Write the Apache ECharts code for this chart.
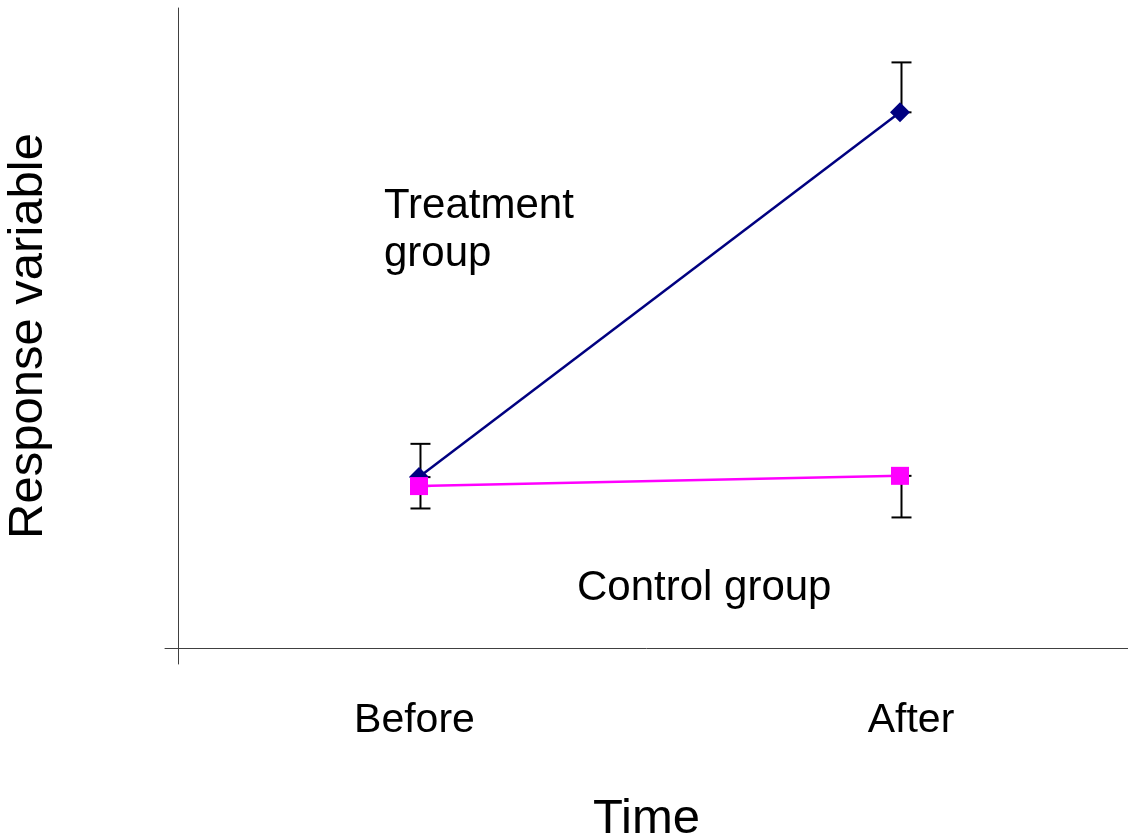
<!DOCTYPE html>
<html>
<head>
<meta charset="utf-8">
<style>
  html, body { margin: 0; padding: 0; background: #fff; }
  #chart { width: 1128px; height: 839px; }
</style>
<script src="https://cdn.jsdelivr.net/npm/echarts@6/dist/echarts.min.js"></script>
</head>
<body>
<div id="chart"></div>
<script>
var categories = ['Before', 'After'];
var xPos = [0.5, 1.5];
var treatment = [2.67, 8.37];
var treatmentErrPlus = [0.52, 0.78];
var control = [2.53, 2.69];
var controlErrMinus = [0.35, 0.65];

var myChart;
function initChart() {
    var chartDom = document.getElementById('chart');
    myChart = echarts.init(chartDom);
    var option;

    var font = 'Liberation Sans, Arial, sans-serif';
    var treatData = xPos.map(function (x, i) { return [x, treatment[i]]; });
    var ctrlData = xPos.map(function (x, i) { return [x, control[i]]; });
    var errData = [];
    xPos.forEach(function (x, i) {
        errData.push([x, treatment[i], treatment[i] + treatmentErrPlus[i]]);
        errData.push([x, control[i] - controlErrMinus[i], control[i]]);
    });

    function renderErr(params, api) {
        var x = api.value(0);
        var lo = api.coord([x, api.value(1)]);
        var hi = api.coord([x, api.value(2)]);
        var half = 10;
        var st = { stroke: '#000', lineWidth: 2 };
        return {
            type: 'group',
            children: [
                { type: 'line', shape: { x1: lo[0] + 1.5, y1: lo[1], x2: hi[0] + 1.5, y2: hi[1] }, style: st },
                { type: 'line', shape: { x1: hi[0] + 1.5 - half, y1: hi[1], x2: hi[0] + 1.5 + half, y2: hi[1] }, style: st },
                { type: 'line', shape: { x1: lo[0] + 1.5 - half, y1: lo[1], x2: lo[0] + 1.5 + half, y2: lo[1] }, style: st }
            ]
        };
    }

    option = {
        animation: false,
        textStyle: { fontFamily: font },
        grid: { left: 165, right: 0, top: 8, bottom: 175, outerBoundsMode: 'none', containLabel: false },
        xAxis: {
            type: 'value',
            min: -0.028,
            max: 1.974,
            splitLine: { show: false },
            axisTick: { show: false },
            axisLine: { onZero: true, lineStyle: { color: '#404040', width: 1 } },
            axisLabel: {
                customValues: xPos,
                margin: 36,
                color: '#000',
                fontSize: 41,
                fontFamily: font,
                formatter: function (v) {
                    var i = xPos.indexOf(v);
                    if (i === 0) return '{b|' + categories[0] + '}';
                    if (i === 1) return '{a|' + categories[1] + '}';
                    return '';
                },
                rich: {
                    b: { fontSize: 41, color: '#000', fontFamily: font, padding: [0, 9, 0, 0] },
                    a: { fontSize: 41, color: '#000', fontFamily: font, padding: [0, 0, 0, 22] }
                }
            },
            name: 'Time',
            nameLocation: 'middle',
            nameGap: 131,
            nameTextStyle: { fontSize: 49, color: '#000', fontFamily: font }
        },
        yAxis: {
            type: 'value',
            min: -0.25,
            max: 10,
            splitLine: { show: false },
            axisTick: { show: false },
            axisLabel: { show: false },
            axisLine: { onZero: true, lineStyle: { color: '#404040', width: 1 } },
            name: 'Response variable',
            nameLocation: 'middle',
            nameGap: 112,
            nameTextStyle: { fontSize: 49, color: '#000', fontFamily: font }
        },
        graphic: [
            {
                type: 'text',
                left: 384,
                top: 182,
                style: {
                    text: 'Treatment\ngroup',
                    font: '42px ' + font,
                    lineHeight: 48,
                    fill: '#000'
                }
            },
            {
                type: 'text',
                left: 577,
                top: 564,
                style: {
                    text: 'Control group',
                    font: '42px ' + font,
                    lineHeight: 48,
                    fill: '#000'
                }
            }
        ],
        series: [
            {
                name: 'Error',
                type: 'custom',
                renderItem: renderErr,
                data: errData,
                z: 1
            },
            {
                name: 'Treatment group',
                type: 'line',
                data: treatData,
                symbol: 'diamond',
                symbolSize: 20,
                lineStyle: { color: '#000080', width: 2.5 },
                itemStyle: { color: '#000080' },
                z: 2
            },
            {
                name: 'Control group',
                type: 'line',
                data: ctrlData,
                symbol: 'rect',
                symbolSize: 18,
                lineStyle: { color: '#FF00FF', width: 2.5 },
                itemStyle: { color: '#FF00FF' },
                z: 3
            }
        ]
    };

    option && myChart.setOption(option);
}

document.addEventListener('DOMContentLoaded', function () {
    initChart();
});

window.addEventListener('resize', function () {
    myChart.resize();
});
</script>
</body>
</html>
